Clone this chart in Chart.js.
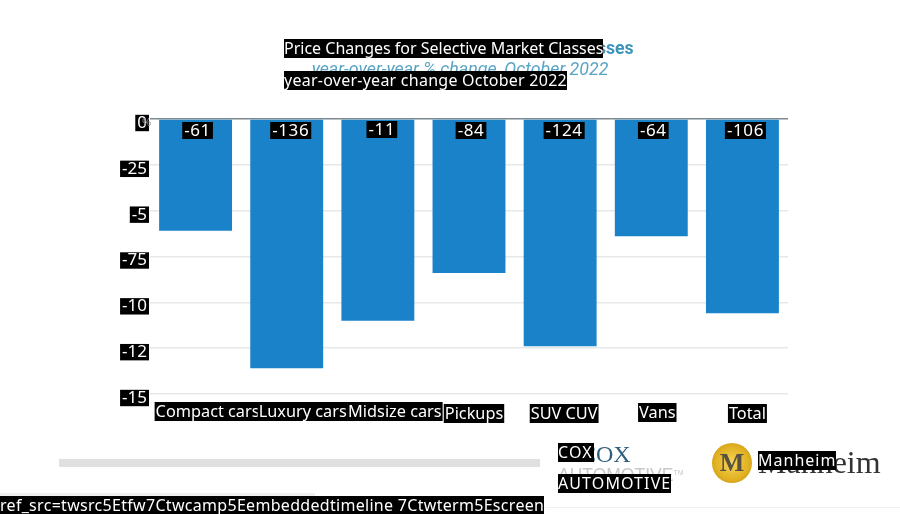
<!DOCTYPE html>
<html>
<head>
<meta charset="utf-8">
<script src="https://cdn.jsdelivr.net/npm/chart.js@4"></script>
<style>
  html, body { margin: 0; padding: 0; background: #fff; }
  #wrap { position: relative; width: 900px; height: 514px; overflow: hidden; }
  canvas { position: absolute; left: 0; top: 0; }
  .box, .raw { position: absolute; white-space: nowrap; }
  .box { background: #000; color: #fff; font: 16px/19px "Noto Sans", sans-serif; }
  .bar { position: absolute; }
  .seal {
    position: absolute; left: 712px; top: 443px; width: 40px; height: 40px; border-radius: 50%;
    background: radial-gradient(circle, #f6d65a 0%, #e0b021 60%, #b88a12 100%);
    text-align: center; font: bold 26px/40px "Liberation Serif", serif; color: #5b5140;
  }
</style>
</head>
<body>
<div id="wrap">
  <canvas id="barChart" width="900" height="514"></canvas>

  <div class="raw" style="left:142px;top:114px;font:11px 'Noto Sans',sans-serif;color:#8a8a8a">%</div>

  <div class="box" style="left:284px;top:39px">Price Changes for Selective Market Classes</div>
  <div class="box" style="left:284px;top:71px;letter-spacing:.25px">year-over-year change October 2022</div>

  <div class="bar" style="left:59px;top:459px;width:481px;height:8px;background:#e0e0e0"></div>
  <div class="bar" style="left:0;top:493px;width:315px;height:3px;background:#f0f0f0"></div>
  <div class="bar" style="left:545px;top:507px;width:355px;height:1px;background:#f0f0f0"></div>

  <div class="raw" style="left:580px;top:441px;font:24px 'Liberation Serif',serif;color:#2c5f80">COX</div>
  <div class="raw" style="left:558px;top:465px;font:17.5px 'Liberation Sans',sans-serif;color:#c8c8c8">AUTOMOTIVE<span style="font-size:7px;vertical-align:6px">TM</span></div>
  <div class="seal">M</div>
  <div class="raw" style="left:758px;top:444px;font:32px 'Liberation Serif',serif;color:#333">Manheim</div>

  <div class="box" style="left:558px;top:443px;letter-spacing:1.2px;padding-right:1px">COX</div>
  <div class="box" style="left:558px;top:474px;letter-spacing:1.1px">AUTOMOTIVE</div>
  <div class="box" style="left:758px;top:451px;letter-spacing:1px">Manheim</div>
  <div class="box" style="left:0;top:496px;letter-spacing:.3px">ref_src=twsrc5Etfw7Ctwcamp5Eembeddedtimeline 7Ctwterm5Escreen</div>
</div>
<script>
const categories = ["Compact cars", "Luxury cars", "Midsize cars", "Pickups", "SUV CUV", "Vans", "Total"];
const changes = [-6.1, -13.6, -11, -8.4, -12.4, -6.4, -10.6];
const valueLabels = ["-61", "-136", "-11", "-84", "-124", "-64", "-106"];
const tickLabels = ["0", "-25", "-5", "-75", "-10", "-12", "-15"];

// the labels in the picture do not sit quite under their bars
const catShiftX = [12, 16, 17, 5, 4, 6, 5];
const catBoxTop = [402, 402, 402, 404, 404, 403, 404];
const valueShiftX = [2, 4, 4, 2, 4, 2, 3];
const valueBoxTop = [122, 122, 121, 122, 122, 122, 122];

function blackBox(ctx, text, cx, top, h, pad) {
  const w = ctx.measureText(text).width + pad * 2;
  ctx.fillStyle = "#000";
  ctx.fillRect(cx - w / 2, top, w, h);
  ctx.fillStyle = "#fff";
  ctx.fillText(text, cx, top + h / 2 + 1);
}

const labelBoxes = {
  id: "labelBoxes",
  afterDatasetsDraw(chart) {
    const ctx = chart.ctx;
    const xScale = chart.scales.x;
    ctx.save();
    ctx.textAlign = "center";
    ctx.textBaseline = "middle";
    ctx.font = '17px "Noto Sans", sans-serif';
    ctx.letterSpacing = "0.6px";
    chart.getDatasetMeta(0).data.forEach(function (bar, i) {
      blackBox(ctx, valueLabels[i], bar.x + valueShiftX[i], valueBoxTop[i], 17, 2);
    });
    ctx.font = '16.3px "Noto Sans", sans-serif';
    ctx.letterSpacing = "0px";
    categories.forEach(function (name, i) {
      blackBox(ctx, name, xScale.getPixelForTick(i) + catShiftX[i], catBoxTop[i], 19, 1);
    });
    ctx.restore();
  }
};

new Chart(document.getElementById("barChart").getContext("2d"), {
  type: "bar",
  data: {
    labels: categories,
    datasets: [{
      data: changes,
      backgroundColor: "#1a82c8",
      barPercentage: 0.8,
      categoryPercentage: 1
    }]
  },
  plugins: [labelBoxes],
  options: {
    responsive: false,
    animation: false,
    layout: { padding: { left: 20, right: 0 } },
    plugins: {
      legend: { display: false },
      tooltip: { enabled: false },
      title: {
        display: true,
        text: "Price Changes for Selective Market Classes",
        color: "#3d94bb",
        font: { family: "Roboto", size: 17.7, weight: "bold" },
        padding: { top: 38.5, bottom: 0 }
      },
      subtitle: {
        display: true,
        text: "year-over-year % change, October 2022",
        color: "#5aa5c4",
        font: { family: "Roboto", size: 17.8, style: "italic", weight: "normal" },
        padding: { top: 0, bottom: 37.9 }
      }
    },
    scales: {
      x: {
        afterFit: function (s) { s.height = 120; },
        grid: { display: false },
        border: { display: false },
        ticks: { display: false, autoSkip: false }
      },
      y: {
        min: -15,
        max: 0,
        afterFit: function (s) { s.width = 130; },
        border: { display: false },
        grid: {
          drawTicks: false,
          lineWidth: 1.5,
          color: function (c) { return c.tick.value === 0 ? "#7d8a92" : "#e6e8e8"; }
        },
        ticks: {
          stepSize: 2.5,
          padding: 3,
          labelOffset: 4,
          color: "#fff",
          font: { family: "Noto Sans", size: 17 },
          showLabelBackdrop: true,
          backdropColor: "#000",
          backdropPadding: { x: 2, y: -2 },
          callback: function (v) { return tickLabels[Math.round(v / -2.5)]; }
        }
      },
      // keeps the plot off the right edge while the titles stay centred on the page
      rightGap: {
        position: "right",
        afterFit: function (s) { s.width = 112; },
        border: { display: false },
        grid: { display: false },
        ticks: { display: false }
      }
    }
  }
});
</script>
</body>
</html>
